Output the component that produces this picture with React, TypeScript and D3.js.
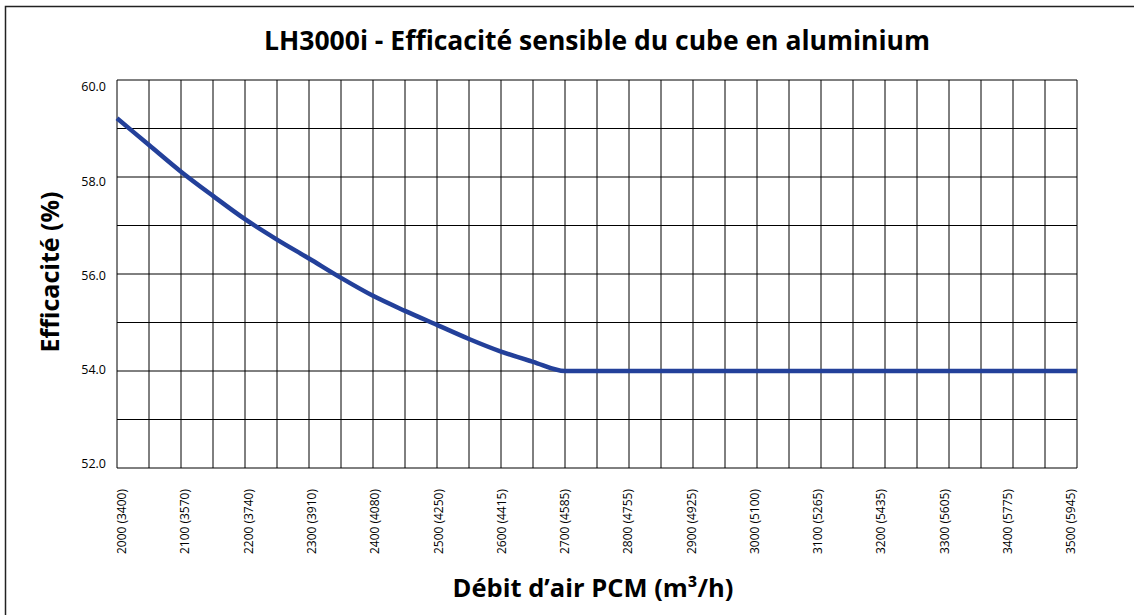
import React, { useEffect, useRef } from 'react';
import * as d3 from 'd3';

const airflow = [2000, 2050, 2100, 2150, 2200, 2250, 2300, 2350, 2400, 2450, 2500, 2550, 2600, 2650, 2700, 3500];
const efficiency = [59.21, 58.66, 58.11, 57.61, 57.13, 56.71, 56.32, 55.92, 55.55, 55.24, 54.95, 54.66, 54.4, 54.19, 54.0, 54.0];

const xTickLabels = [
  '2000 (3400)', '2100 (3570)', '2200 (3740)', '2300 (3910)', '2400 (4080)', '2500 (4250)',
  '2600 (4415)', '2700 (4585)', '2800 (4755)', '2900 (4925)', '3000 (5100)', '3100 (5265)',
  '3200 (5435)', '3300 (5605)', '3400 (5775)', '3500 (5945)',
];
const yTickValues = [52, 54, 56, 58, 60];

const title = 'LH3000i - Efficacité sensible du cube en aluminium';
const xTitle = 'Débit d’air PCM (m³/h)';
const yTitle = 'Efficacité (%)';

const App = () => {
  const chartRef = useRef<SVGSVGElement>(null);

  useEffect(() => {
    drawChart();
  }, []);

  const drawChart = () => {
    const width = 1134;
    const height = 615;
    const left = 117, right = 1077, top = 80, bottom = 468;
    const font = '"Open Sans", "DejaVu Sans", sans-serif';

    const svg = d3.select(chartRef.current);
    svg.selectAll('*').remove();
    svg.attr('width', width).attr('height', height);

    svg.append('rect')
      .attr('width', width).attr('height', height).attr('fill', '#fff');

    // outer frame, only left/top edges are visible
    svg.append('rect')
      .attr('x', 5.5).attr('y', 6.5)
      .attr('width', width + 10).attr('height', height + 10)
      .attr('fill', 'none').attr('stroke', '#222').attr('stroke-width', 1.5);

    const x = d3.scaleLinear().domain([2000, 3500]).range([left, right]);
    const y = d3.scaleLinear().domain([52, 60]).range([bottom, top]);

    // labels are spaced slightly inside the grid
    const xLab = d3.scalePoint<string>().domain(xTickLabels).range([122, 1071]);
    const yLab = d3.scaleLinear().domain([52, 60]).range([464, 87]);

    const g = svg.append('g');

    g.selectAll('line.v')
      .data(d3.range(2000, 3501, 50))
      .enter()
      .append('line')
      .attr('class', 'v')
      .attr('x1', d => x(d)).attr('x2', d => x(d))
      .attr('y1', top).attr('y2', bottom)
      .attr('stroke', '#000').attr('stroke-width', 1);

    g.selectAll('line.h')
      .data(d3.range(52, 60.5, 1))
      .enter()
      .append('line')
      .attr('class', 'h')
      .attr('x1', left).attr('x2', right)
      .attr('y1', d => y(d)).attr('y2', d => y(d))
      .attr('stroke', '#000').attr('stroke-width', 1);

    const line = d3.line<number>()
      .x((d, i) => x(airflow[i]))
      .y(d => y(d))
      .curve(d3.curveMonotoneX);

    g.append('path')
      .datum(efficiency)
      .attr('fill', 'none')
      .attr('stroke', '#23409a')
      .attr('stroke-width', 4.5)
      .attr('d', line);

    g.selectAll('text.yt')
      .data(yTickValues)
      .enter()
      .append('text')
      .attr('class', 'yt')
      .attr('x', 106)
      .attr('y', d => yLab(d))
      .attr('dy', '0.35em')
      .attr('text-anchor', 'end')
      .attr('font-family', font)
      .attr('font-size', 12.5)
      .text(d => d.toFixed(1));

    g.selectAll('text.xt')
      .data(xTickLabels)
      .enter()
      .append('text')
      .attr('class', 'xt')
      .attr('transform', d => `translate(${xLab(d)},489) rotate(-90)`)
      .attr('dy', '0.35em')
      .attr('text-anchor', 'end')
      .attr('font-family', font)
      .attr('font-size', 12)
      .text(d => d);

    svg.append('text')
      .attr('x', 597).attr('y', 50)
      .attr('text-anchor', 'middle')
      .attr('font-family', font)
      .attr('font-weight', 'bold')
      .attr('font-size', 26.5)
      .text(title);

    svg.append('text')
      .attr('x', 593).attr('y', 597)
      .attr('text-anchor', 'middle')
      .attr('font-family', font)
      .attr('font-weight', 'bold')
      .attr('font-size', 25.5)
      .text(xTitle);

    svg.append('text')
      .attr('transform', 'translate(59,272) rotate(-90)')
      .attr('text-anchor', 'middle')
      .attr('font-family', font)
      .attr('font-weight', 'bold')
      .attr('font-size', 25)
      .text(yTitle);
  };

  return (
    <svg ref={chartRef} style={{ position: 'absolute', left: 0, top: 0, display: 'block' }}></svg>
  );
};

export default App;
